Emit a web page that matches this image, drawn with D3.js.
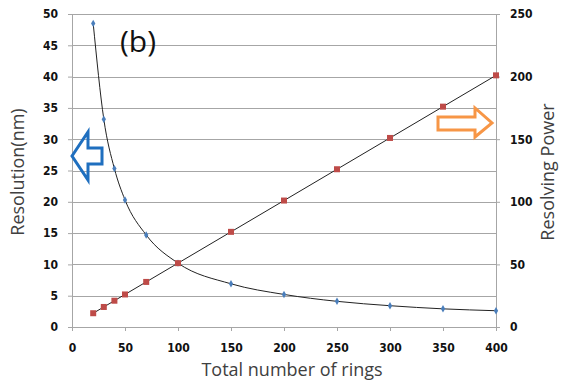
<!DOCTYPE html>
<html>
<head>
<meta charset="utf-8">
<script src="https://cdn.jsdelivr.net/npm/d3@7"></script>
<style>
  body { margin: 0; background: #fff; }
  .tick text { font-family: "DejaVu Sans Condensed", "Liberation Sans Narrow", sans-serif; font-weight: bold; font-size: 12px; fill: #111; }
  .title { font-family: "Open Sans", "DejaVu Sans", sans-serif; font-size: 18px; fill: #404040; }
</style>
</head>
<body>
<svg id="chart"></svg>
<script>
'use strict';
// data
var rings = [20, 30, 40, 50, 70, 100, 150, 200, 250, 300, 350, 400];
var resolution = [48.5, 33.2, 25.3, 20.3, 14.7, 10.2, 6.9, 5.2, 4.1, 3.4, 2.9, 2.6];
var resolvingPower = [11, 16, 21, 26, 36, 51, 76, 101, 126, 151, 176, 201];
var xTicks = [0, 50, 100, 150, 200, 250, 300, 350, 400];
var leftTicks = [0, 5, 10, 15, 20, 25, 30, 35, 40, 45, 50];
var rightTicks = [0, 50, 100, 150, 200, 250];

var canvasWidth = 563;
var canvasHeight = 386;
var margin = { top: 14, right: 67, bottom: 59, left: 72 };
var width = canvasWidth - margin.left - margin.right;
var height = canvasHeight - margin.top - margin.bottom;

var svg = d3.select('#chart')
  .attr('width', canvasWidth)
  .attr('height', canvasHeight);
var g = svg.append('g')
  .attr('transform', 'translate(' + margin.left + ',' + margin.top + ')');

var xScale = d3.scaleLinear().domain([0, 400]).range([0, width]);
var yLeft = d3.scaleLinear().domain([0, 50]).range([height, 0]);
var yRight = d3.scaleLinear().domain([0, 250]).range([height, 0]);

// gridlines
g.selectAll('line.grid').data(leftTicks).enter().append('line')
  .attr('class', 'grid')
  .attr('x1', 0).attr('x2', width)
  .attr('y1', function(d) { return Math.round(yLeft(d)) + 0.5; })
  .attr('y2', function(d) { return Math.round(yLeft(d)) + 0.5; })
  .attr('stroke', '#a6a6a6').attr('stroke-width', 1);

function styleAxis(sel) {
  sel.select('.domain').attr('stroke', '#a6a6a6');
  sel.selectAll('.tick line').attr('stroke', '#a6a6a6');
}

g.append('g')
  .attr('transform', 'translate(0,' + height + ')')
  .call(d3.axisBottom(xScale).tickValues(xTicks).tickSize(4).tickSizeOuter(0).tickPadding(12))
  .call(styleAxis);

g.append('g')
  .call(d3.axisLeft(yLeft).tickValues(leftTicks).tickSize(4).tickSizeOuter(0).tickPadding(10))
  .call(styleAxis);

g.append('g')
  .attr('transform', 'translate(' + width + ',0)')
  .call(d3.axisRight(yRight).tickValues(rightTicks).tickSize(4).tickSizeOuter(0).tickPadding(10))
  .call(styleAxis);

// resolution curve
var resData = rings.map(function(r, i) { return [r, resolution[i]]; });
var powData = rings.map(function(r, i) { return [r, resolvingPower[i]]; });

g.append('path').datum(resData)
  .attr('fill', 'none').attr('stroke', '#222').attr('stroke-width', 1)
  .attr('d', d3.line()
    .x(function(d) { return xScale(d[0]); })
    .y(function(d) { return yLeft(d[1]); })
    .curve(d3.curveMonotoneX));

g.append('path').datum(powData)
  .attr('fill', 'none').attr('stroke', '#222').attr('stroke-width', 1)
  .attr('d', d3.line()
    .x(function(d) { return xScale(d[0]); })
    .y(function(d) { return yRight(d[1]); }));

// markers
g.selectAll('path.diamond').data(resData).enter().append('path')
  .attr('class', 'diamond')
  .attr('d', d3.symbol().type(d3.symbolDiamond).size(16))
  .attr('transform', function(d) { return 'translate(' + xScale(d[0]) + ',' + yLeft(d[1]) + ')'; })
  .attr('fill', '#4a7ebb');

g.selectAll('rect.sq').data(powData).enter().append('rect')
  .attr('class', 'sq')
  .attr('x', function(d) { return xScale(d[0]) - 3; })
  .attr('y', function(d) { return yRight(d[1]) - 3; })
  .attr('width', 6).attr('height', 6)
  .attr('fill', '#be4b48');

// arrows
svg.append('path')
  .attr('d', 'M72,156 L88,132 L88,148 L102,148 L102,164 L88,164 L88,180 Z')
  .attr('fill', 'none').attr('stroke', '#1f6fbf').attr('stroke-width', 3)
  .attr('stroke-linejoin', 'miter');

svg.append('path')
  .attr('d', 'M438,117 L475,117 L475,108 L492,123 L475,137 L475,130 L438,130 Z')
  .attr('fill', 'none').attr('stroke', '#f79646').attr('stroke-width', 3)
  .attr('stroke-linejoin', 'miter');

// labels
svg.append('text')
  .attr('x', 120).attr('y', 52)
  .style('font-family', '"Open Sans", "DejaVu Sans", sans-serif')
  .style('font-size', '30px').style('fill', '#111')
  .text('(b)');

svg.append('text').attr('class', 'title')
  .attr('text-anchor', 'middle')
  .attr('transform', 'translate(24,172) rotate(-90)')
  .text('Resolution(nm)');

svg.append('text').attr('class', 'title')
  .attr('text-anchor', 'middle')
  .attr('transform', 'translate(554,172) rotate(-90)')
  .text('Resolving Power');

svg.append('text').attr('class', 'title')
  .attr('text-anchor', 'middle')
  .attr('x', 292).attr('y', 376)
  .text('Total number of rings');
</script>
</body>
</html>
